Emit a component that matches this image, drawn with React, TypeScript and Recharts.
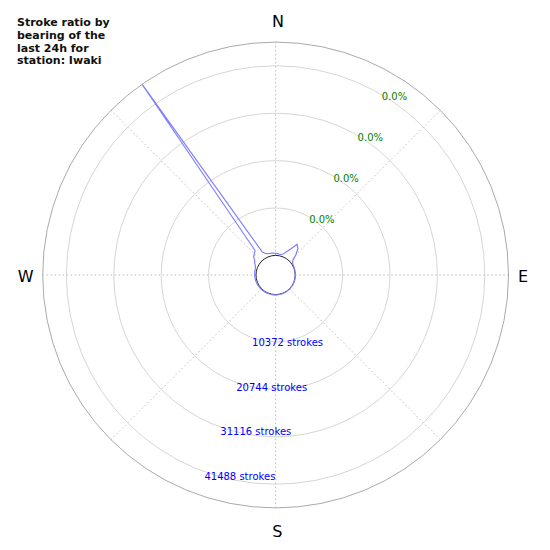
import React from 'react';
import {
  RadarChart, Radar, PolarGrid, PolarAngleAxis, PolarRadiusAxis,
} from 'recharts';

// 5 degree bearing bins, clockwise from north
const bearings = [
  0, 5, 10, 15, 20, 25, 30, 35, 40, 45, 50, 55,
  60, 65, 70, 75, 80, 85, 90, 95, 100, 105, 110, 115,
  120, 125, 130, 135, 140, 145, 150, 155, 160, 165, 170, 175,
  180, 185, 190, 195, 200, 205, 210, 215, 220, 225, 230, 235,
  240, 245, 250, 255, 260, 265, 270, 275, 280, 285, 290, 295,
  300, 305, 310, 315, 320, 325, 330, 335, 340, 345, 350, 355,
];

const strokes = [
  450, 400, 350, 400, 600, 1300, 2300, 3900, 3300, 2000, 600, 250,
  150, 100, 80, 60, 50, 50, 40, 40, 30, 30, 40, 40,
  30, 40, 40, 50, 40, 40, 50, 50, 40, 50, 50, 60,
  60, 70, 60, 80, 80, 90, 100, 100, 120, 120, 150, 150,
  180, 200, 220, 250, 250, 280, 300, 300, 320, 350, 400, 600,
  1000, 1300, 2000, 2300, 2700, 46674, 1500, 900, 700, 600, 550, 500,
];

const compassTicks = [0, 90, 180, 270];
const compassLabels = ['N', 'E', 'S', 'W'];
const ringTicks = [10372, 20744, 31116, 41488];
const ratioLabels = ['0.0%', '0.0%', '0.0%', '0.0%'];
const titleLines = ['Stroke ratio by', 'bearing of the', 'last 24h for', 'station: Iwaki'];
const MAX_STROKES = 46674;

const data = bearings.map((b, i) => ({ bearing: b, strokes: strokes[i] }));

const FONT = 'DejaVu Sans';
const CX = 275.6;
const CY = 275;
const INNER = 19.6;
const OUTER = 232.9;
const gridAngles = [0, 45, 90, 135, 180, 225, 270, 315];
const RATIO_ANGLE = 59.3;

const compassOffset: Record<string, [number, number]> = {
  N: [2.4, -13],
  E: [6.5, 1],
  S: [1.7, 15],
  W: [-9, 1],
};

const CompassTick = (props: any) => {
  const { x, y, payload } = props;
  const idx = compassTicks.indexOf(payload.value);
  if (idx < 0) return null;
  const label = compassLabels[idx];
  const [dx, dy] = compassOffset[label];
  return (
    <text x={x + dx} y={y + dy + 5.8} textAnchor="middle" fontSize={16} fontFamily={FONT} fill="#000">
      {label}
    </text>
  );
};

// strokes label along the lower-left ray, plus the ratio label on the same ring up-right
const RingTick = (props: any) => {
  const { x, y, payload } = props;
  const idx = ringTicks.indexOf(payload.value);
  const r = Math.hypot(x - CX, y - CY);
  const rad = (RATIO_ANGLE * Math.PI) / 180;
  const gx = CX + r * Math.cos(rad);
  const gy = CY - r * Math.sin(rad);
  return (
    <g>
      <text x={x - 1} y={y + 7.8} textAnchor="start" fontSize={10} fontFamily={FONT} fill="#0000ff">
        {`${payload.value} strokes`}
      </text>
      <text x={gx - 0.6} y={gy + 5.3} textAnchor="start" fontSize={10} fontFamily={FONT} fill="#008000">
        {ratioLabels[idx] ?? ''}
      </text>
    </g>
  );
};

export default function App() {
  return (
    <div style={{ position: 'absolute', left: 0, top: 0, width: 550, height: 550, background: '#fff' }}>
      <RadarChart
        width={550}
        height={550}
        data={data}
        cx={CX}
        cy={CY}
        innerRadius={INNER}
        outerRadius={OUTER}
        startAngle={90}
        endAngle={-270}
        margin={{ top: 0, right: 0, bottom: 0, left: 0 }}
      >
        <PolarGrid gridType="circle" radialLines={false} stroke="#d6d6d6" />
        <PolarGrid gridType="circle" polarAngles={gridAngles} polarRadius={[]} stroke="#bdbdbd" strokeDasharray="1.5 2.5" />
        <PolarGrid gridType="circle" radialLines={false} polarRadius={[INNER]} stroke="#222" />
        <PolarAngleAxis
          dataKey="bearing"
          type="number"
          domain={[0, 360]}
          ticks={compassTicks}
          tick={CompassTick}
          tickLine={false}
          axisLineType="circle"
          axisLine={{ stroke: '#aaaaaa' }}
        />
        <PolarRadiusAxis
          angle={-109.6}
          type="number"
          domain={[0, MAX_STROKES]}
          ticks={ringTicks}
          tick={RingTick}
          axisLine={false}
          tickLine={false}
        />
        <Radar
          dataKey="strokes"
          stroke="#8080ff"
          strokeWidth={1.2}
          fill="none"
          fillOpacity={0}
          dot={false}
          isAnimationActive={false}
        />
      </RadarChart>
      <div
        style={{
          position: 'absolute', left: 17, top: 17, fontFamily: FONT, fontWeight: 'bold',
          fontSize: 11, lineHeight: '12.8px', color: '#111',
        }}
      >
        {titleLines.map((t) => <div key={t}>{t}</div>)}
      </div>
    </div>
  );
}
